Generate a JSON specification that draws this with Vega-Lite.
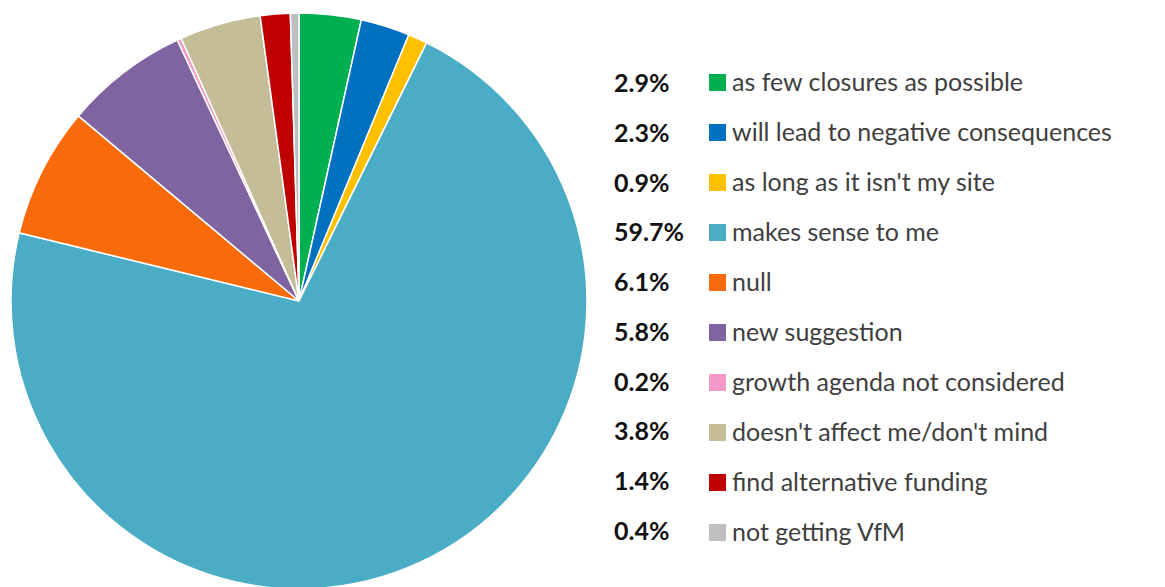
{
  "$schema": "https://vega.github.io/schema/vega-lite/v6.json",
  "background": "white",
  "padding": {"left": 8, "top": 10, "right": 0, "bottom": 0},
  "spacing": 26,
  "bounds": "flush",
  "data": {"values": [
    {"idx": 1, "cat": "as few closures as possible", "value": 2.9, "pct": "2.9%"},
    {"idx": 2, "cat": "will lead to negative consequences", "value": 2.3, "pct": "2.3%"},
    {"idx": 3, "cat": "as long as it isn't my site", "value": 0.9, "pct": "0.9%"},
    {"idx": 4, "cat": "makes sense to me", "value": 59.7, "pct": "59.7%"},
    {"idx": 5, "cat": "null", "value": 6.1, "pct": "6.1%"},
    {"idx": 6, "cat": "new suggestion", "value": 5.8, "pct": "5.8%"},
    {"idx": 7, "cat": "growth agenda not considered", "value": 0.2, "pct": "0.2%"},
    {"idx": 8, "cat": "doesn't affect me/don't mind", "value": 3.8, "pct": "3.8%"},
    {"idx": 9, "cat": "find alternative funding", "value": 1.4, "pct": "1.4%"},
    {"idx": 10, "cat": "not getting VfM", "value": 0.4, "pct": "0.4%"}
  ]},
  "hconcat": [
    {
      "width": 576,
      "height": 576,
      "mark": {"type": "arc", "stroke": "white", "strokeWidth": 1.5},
      "encoding": {
        "theta": {"field": "value", "type": "quantitative", "stack": true},
        "order": {"field": "idx", "type": "quantitative"},
        "color": {
          "field": "cat",
          "type": "nominal",
          "sort": {"field": "idx"},
          "scale": {
            "domain": ["as few closures as possible", "will lead to negative consequences", "as long as it isn't my site", "makes sense to me", "null", "new suggestion", "growth agenda not considered", "doesn't affect me/don't mind", "find alternative funding", "not getting VfM"],
            "range": ["#00B050", "#0070C0", "#FFC000", "#4BACC6", "#F96A0A", "#8064A2", "#F49AC8", "#C4BD97", "#C00000", "#BFBFBF"]
          },
          "legend": {
            "orient": "none",
            "legendX": 694,
            "legendY": 57,
            "title": null,
            "symbolType": "square",
            "symbolSize": 289,
            "symbolStrokeWidth": 0,
            "labelFont": "Lato",
            "labelFontSize": 25,
            "labelColor": "#404040",
            "labelOffset": 2,
            "labelLimit": 600,
            "rowPadding": 24
          }
        }
      }
    },
    {
      "width": 2,
      "height": 576,
      "mark": {"type": "text", "align": "left", "baseline": "middle", "font": "Lato", "fontSize": 25, "fontWeight": "bold", "color": "#111111"},
      "encoding": {
        "y": {"field": "cat", "type": "nominal", "sort": {"field": "idx"}, "axis": null, "scale": {"type": "point", "range": [71, 519], "padding": 0}},
        "text": {"field": "pct"}
      }
    }
  ],
  "config": {"view": {"stroke": null}}
}
